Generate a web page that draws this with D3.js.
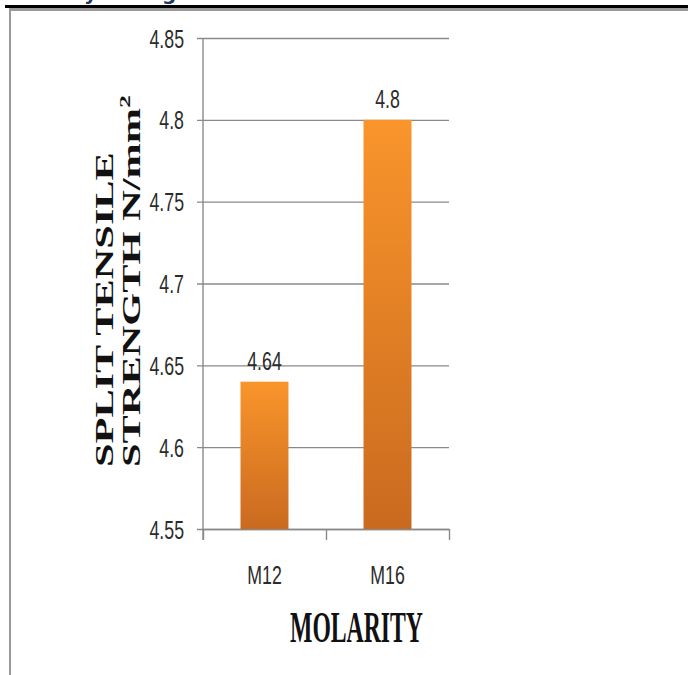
<!DOCTYPE html>
<html>
<head>
<meta charset="utf-8">
<script src="https://cdn.jsdelivr.net/npm/d3@7"></script>
<style>
  html, body { margin: 0; padding: 0; background: #fff; }
  svg { display: block; }
</style>
</head>
<body>
<svg id="chart" width="688" height="675"></svg>
<script>
// ---- data ----
const categories = ["M12", "M16"];
const values = [4.64, 4.8];
const valueLabels = ["4.64", "4.8"];
const yTicks = [4.55, 4.6, 4.65, 4.7, 4.75, 4.8, 4.85];
const yTickLabels = ["4.55", "4.6", "4.65", "4.7", "4.75", "4.8", "4.85"];
const yTitleLines = ["SPLIT TENSILE", "STRENGTH N/mm"];
const xTitle = "MOLARITY";

const svg = d3.select("#chart");
const W = 688, H = 675;

// page frame (cropped from a document)
svg.append("rect").attr("x", 5).attr("y", 5).attr("width", W - 5).attr("height", 3).attr("fill", "#000");
svg.append("rect").attr("x", 9).attr("y", 8).attr("width", W - 9).attr("height", 3).attr("fill", "#9a9a9a");
svg.append("rect").attr("x", 9).attr("y", 8).attr("width", 2).attr("height", H - 8).attr("fill", "#9a9a9a");
// cut-off heading descenders (as in the source page)
const head = svg.append("g").attr("fill", "#1f3864").attr("font-family", "DejaVu Sans").attr("font-weight", "bold").attr("font-size", 20);
head.append("text").attr("x", 84).attr("y", 0).text("y");
head.append("text").attr("x", 162).attr("y", 0).text("g");

// ---- scales ----
const y = d3.scaleLinear().domain([4.55, 4.85]).range([529, 38]);
const x = d3.scaleBand().domain(categories).range([203, 449]).paddingInner(0.61).paddingOuter(0.305);

const gridColor = "#8a8a8a";
const numFont = "Liberation Sans";
const numSize = 25;
const sx = 0.71;
const numColor = "#2b2b2b";

// gradient
const defs = svg.append("defs");
const grad = defs.append("linearGradient").attr("id", "barGrad").attr("x1", 0).attr("y1", 0).attr("x2", 0).attr("y2", 1);
grad.append("stop").attr("offset", "0%").attr("stop-color", "#f9952b");
grad.append("stop").attr("offset", "100%").attr("stop-color", "#ca6a1f");

// y axis with gridlines
const yAxis = d3.axisLeft(y).tickValues(yTicks).tickFormat((d, i) => yTickLabels[i]).tickSizeOuter(0).tickSizeInner(0).tickPadding(0);
const yg = svg.append("g").attr("transform", "translate(203,0)").call(yAxis);
yg.select(".domain").remove();
yg.selectAll(".tick line").attr("x1", -6).attr("x2", 449 - 203).attr("stroke", gridColor).attr("stroke-width", 1.4);
yg.selectAll(".tick text")
  .attr("x", null).attr("dy", null)
  .attr("font-family", numFont).attr("font-size", numSize).attr("fill", numColor)
  .attr("text-anchor", "end")
  .attr("transform", `translate(-19,9) scale(${sx},1)`);
// y axis line
svg.append("line").attr("x1", 203).attr("x2", 203).attr("y1", y(4.85)).attr("y2", 540).attr("stroke", gridColor).attr("stroke-width", 1.4);

// x axis
const xAxis = d3.axisBottom(d3.scaleLinear().domain([0, 2]).range([203, 449])).tickValues([0, 1, 2]).tickFormat("").tickSizeInner(11).tickSizeOuter(0);
const xg = svg.append("g").attr("transform", "translate(0,529)").call(xAxis);
xg.select(".domain").attr("stroke", gridColor).attr("stroke-width", 1.4);
xg.selectAll(".tick line").attr("stroke", gridColor).attr("stroke-width", 1.4);

// bars
svg.append("g").selectAll("rect").data(values).join("rect")
  .attr("x", (d, i) => x(categories[i]))
  .attr("y", d => y(d))
  .attr("width", x.bandwidth())
  .attr("height", d => y(4.55) - y(d))
  .attr("fill", "url(#barGrad)");

// value labels
svg.append("g").selectAll("text").data(values).join("text")
  .attr("transform", (d, i) => `translate(${x(categories[i]) + x.bandwidth() / 2},${y(d) - 12}) scale(${sx},1)`)
  .attr("text-anchor", "middle")
  .attr("font-family", numFont).attr("font-size", numSize).attr("fill", numColor)
  .text((d, i) => valueLabels[i]);

// category labels
svg.append("g").selectAll("text").data(categories).join("text")
  .attr("transform", d => `translate(${x(d) + x.bandwidth() / 2},584) scale(${sx},1)`)
  .attr("text-anchor", "middle")
  .attr("font-family", numFont).attr("font-size", numSize).attr("fill", numColor)
  .text(d => d);

// x title
const xt = svg.append("g").attr("transform", "translate(356.5,642)").append("text")
  .attr("text-anchor", "middle")
  .attr("font-family", "Liberation Serif").attr("font-weight", "bold").attr("font-size", 45).attr("fill", "#111")
  .text(xTitle);
{
  const w = xt.node().getComputedTextLength();
  xt.attr("transform", `scale(${133 / w},1)`);
}

// y title (rotated two lines)
function rotLine(bx, by, len, build) {
  const g = svg.append("g").attr("transform", `translate(${bx},${by}) rotate(-90)`);
  const t = g.append("text").attr("x", 0).attr("y", 0).attr("text-anchor", "start")
    .attr("font-family", "Liberation Serif").attr("font-weight", "bold").attr("font-size", 25).attr("fill", "#111");
  build(t);
  const w = t.node().getBBox().width;
  t.attr("transform", `scale(${len / w},1)`);
}
rotLine(113, 467, 315, t => t.text(yTitleLines[0]));
rotLine(140, 467, 372, t => {
  t.append("tspan").text(yTitleLines[1]);
  t.append("tspan").attr("font-size", 15).attr("dy", -10).text("2");
});
</script>
</body>
</html>
